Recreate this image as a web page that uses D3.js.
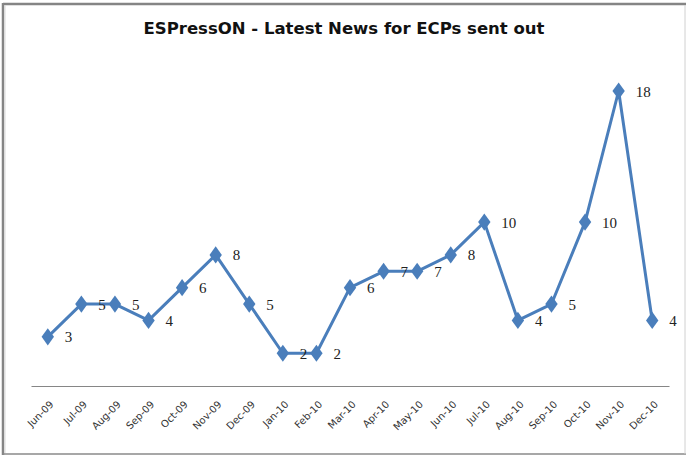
<!DOCTYPE html>
<html><head><meta charset="utf-8">
<script src="https://cdn.jsdelivr.net/npm/d3@7"></script>
<style>body{margin:0;background:#fff}svg{display:block}</style>
</head><body>
<svg id="c" width="686" height="456"></svg>
<script>
const months = ["Jun-09","Jul-09","Aug-09","Sep-09","Oct-09","Nov-09","Dec-09","Jan-10","Feb-10","Mar-10","Apr-10","May-10","Jun-10","Jul-10","Aug-10","Sep-10","Oct-10","Nov-10","Dec-10"];
const values = [3,5,5,4,6,8,5,2,2,6,7,7,8,10,4,5,10,18,4];
const title = "ESPressON - Latest News for ECPs sent out";

const svg = d3.select("#c");
// frame
svg.append("rect").attr("x",0).attr("y",0).attr("width",686).attr("height",456).attr("fill","#fff");
svg.append("line").attr("x1",3).attr("x2",686).attr("y1",4).attr("y2",4).attr("stroke","#858585").attr("stroke-width",2.5);
svg.append("line").attr("x1",3).attr("x2",3).attr("y1",3).attr("y2",455).attr("stroke","#858585").attr("stroke-width",2.5);
svg.append("line").attr("x1",5).attr("x2",5).attr("y1",5).attr("y2",453).attr("stroke","#dadada").attr("stroke-width",1);
svg.append("line").attr("x1",3).attr("x2",686).attr("y1",454).attr("y2",454).attr("stroke","#8a8a8a").attr("stroke-width",1.5);
svg.append("line").attr("x1",685).attr("x2",685).attr("y1",5).attr("y2",454).attr("stroke","#d0d0d0").attr("stroke-width",1);

svg.append("text").attr("x",344).attr("y",34).attr("text-anchor","middle")
  .attr("font-family","Verdana, 'DejaVu Sans', sans-serif").attr("font-weight","bold").attr("font-size",16.5)
  .attr("fill","#111").text(title);

const x = d3.scalePoint().domain(months).range([31,669]).padding(0.5);
const y = d3.scaleLinear().domain([0,18]).range([386,91]);

const axis = d3.axisBottom(x).tickSize(0).tickPadding(0);
const gx = svg.append("g").attr("transform","translate(0,386)").call(axis);
gx.select(".domain").attr("stroke","#868686").attr("stroke-width",1.2);
gx.selectAll(".tick text")
  .attr("font-family","Verdana, 'DejaVu Sans', sans-serif").attr("font-size",10).attr("fill","#333")
  .attr("text-anchor","end").attr("dy",0)
  .attr("transform","translate(6,19) rotate(-45)");

const line = d3.line().x((d,i)=>x(months[i])).y(d=>y(d));
svg.append("path").datum(values).attr("d",line).attr("fill","none")
  .attr("stroke","#4a7ebb").attr("stroke-width",3).attr("stroke-linejoin","round");

const sym = d3.symbol().type(d3.symbolDiamond).size(85);
svg.selectAll(".m").data(values).join("path").attr("class","m")
  .attr("d",sym).attr("transform",(d,i)=>`translate(${x(months[i])},${y(d)}) scale(1.25,1)`)
  .attr("fill","#4a7ebb");

svg.selectAll(".lb").data(values).join("text").attr("class","lb")
  .attr("x",(d,i)=>x(months[i])+17).attr("y",d=>y(d)+5.5)
  .attr("font-family","'Liberation Serif', 'Times New Roman', serif").attr("font-size",15)
  .attr("fill","#222").text(d=>d);
</script>
</body></html>
